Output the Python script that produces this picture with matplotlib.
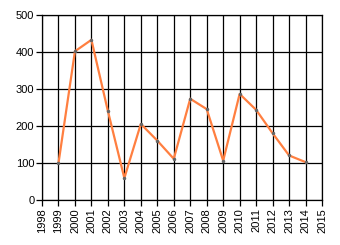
import matplotlib
matplotlib.use("Agg")
import matplotlib.pyplot as plt

years = [1999, 2000, 2001, 2002, 2003, 2004, 2005, 2006, 2007, 2008,
         2009, 2010, 2011, 2012, 2013, 2014]
values = [100, 402, 433, 241, 60, 206, 161, 112, 274, 246,
          107, 287, 244, 181, 121, 103]
x_ticks = list(range(1998, 2016))
y_ticks = [0, 100, 200, 300, 400, 500]

plt.rcParams["font.family"] = ["Liberation Sans", "DejaVu Sans"]

fig = plt.figure(figsize=(3.4, 2.45), dpi=100)
ax = fig.add_axes([42 / 340, (245 - 200.3) / 245, 280 / 340, 185.3 / 245])

ax.plot(years, values, color="#ff7f40", linewidth=1.6, zorder=3,
        marker="o", markersize=1.5, markerfacecolor="#666666", markeredgecolor="#666666")

ax.set_xlim(1998, 2015)
ax.set_ylim(0, 500)
ax.set_xticks(x_ticks)
ax.set_xticklabels([str(t) for t in x_ticks], rotation=90)
ax.set_yticks(y_ticks)
ax.grid(True, color="black", linewidth=0.9)
ax.tick_params(axis="both", length=4, width=0.9, color="black", labelsize=8, pad=1.5)
for s in ax.spines.values():
    s.set_color("black")
    s.set_linewidth(0.9)

fig.savefig("out.png", dpi=100)
